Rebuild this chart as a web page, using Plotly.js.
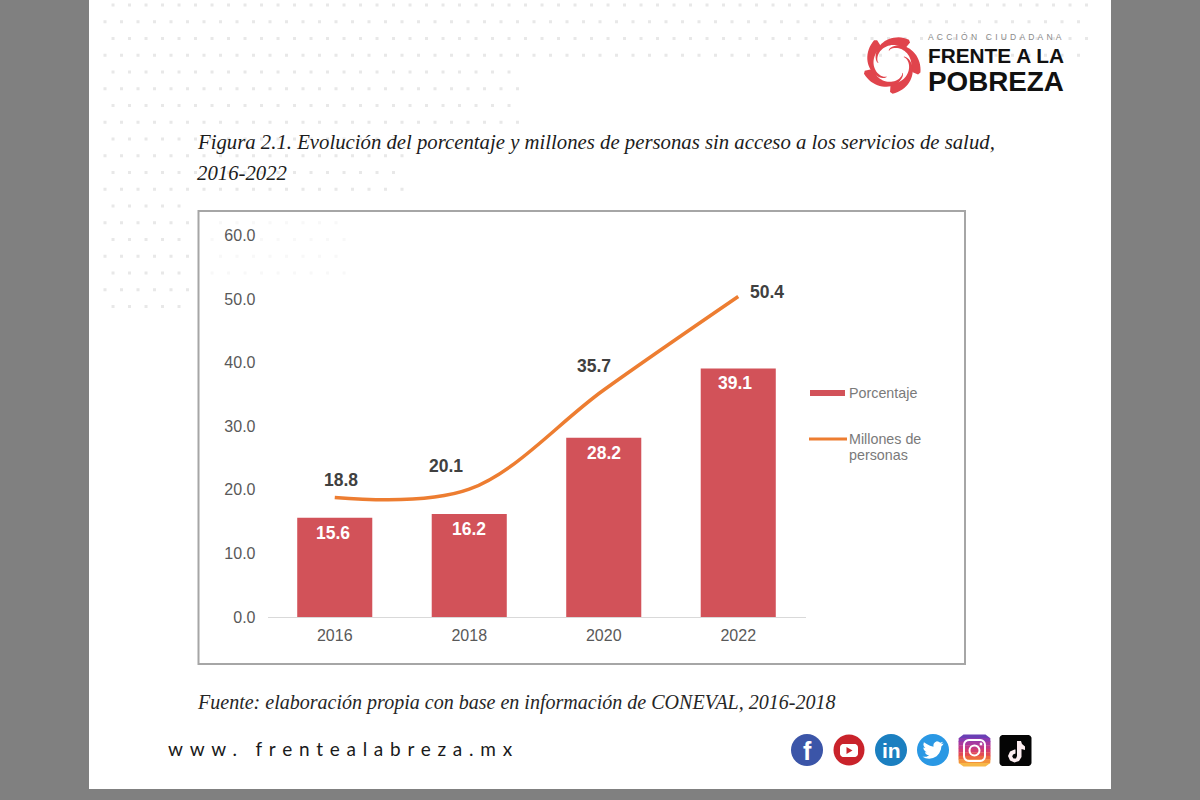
<!DOCTYPE html>
<html><head><meta charset="utf-8">
<script src="https://cdn.plot.ly/plotly-3.0.1.min.js"></script>
<style>html,body{margin:0;padding:0;background:#808080}#c{width:1200px;height:800px}</style></head>
<body><div id="c"></div>
<script>
var years = ['2016','2018','2020','2022'];
var porcentaje = [15.6,16.2,28.2,39.1];
var millones = [18.8,20.1,35.7,50.4];
var yTicks = [0,10,20,30,40,50,60];
var titleLines = ['Figura 2.1. Evolución del porcentaje y millones de personas sin acceso a los servicios de salud,','2016-2022'];
var sourceText = 'Fuente: elaboración propia con base en información de CONEVAL, 2016-2018';
var siteText = 'www. frentealabreza.mx';
var legendLines = ['Porcentaje','Millones de','personas'];
var lineLabelShift = [[6,17],[-23,23],[-10,24],[29,5]];
var barLabelShift = [-1.5,0,0,-3.5];

var BAR='#d25259', LINE='#ed7d31';
function X(x){return x/1200;}
function Y(y){return 1-y/800;}
function P(x,y){return X(x).toFixed(5)+','+Y(y).toFixed(5);}
function poly(pts){return 'M'+pts.map(function(p){return P(p[0],p[1]);}).join('L')+'Z';}
function shapePath(path,fill,lw,lc,op){
  return {type:'path',xref:'paper',yref:'paper',path:path,fillcolor:fill||'rgba(0,0,0,0)',
    line:{width:lw||0,color:lc||'rgba(0,0,0,0)'},opacity:op===undefined?1:op,layer:'below'};
}
function rect(x0,y0,x1,y1,fill,lw,lc){
  return {type:'rect',xref:'paper',yref:'paper',x0:X(x0),x1:X(x1),y0:Y(y0),y1:Y(y1),
    fillcolor:fill||'rgba(0,0,0,0)',line:{width:lw||0,color:lc||'rgba(0,0,0,0)'},layer:'below'};
}
function circle(cx,cy,r,fill,lw,lc){
  return {type:'circle',xref:'paper',yref:'paper',x0:X(cx-r),x1:X(cx+r),y0:Y(cy-r),y1:Y(cy+r),
    fillcolor:fill||'rgba(0,0,0,0)',line:{width:lw||0,color:lc||'rgba(0,0,0,0)'},layer:'below'};
}
function rounded(x0,y0,x1,y1,r){
  var p=[],i,a,c=[[x1-r,y0+r,-90],[x1-r,y1-r,0],[x0+r,y1-r,90],[x0+r,y0+r,180]];
  c.forEach(function(k){for(i=0;i<=6;i++){a=(k[2]+i*15)*Math.PI/180;p.push([k[0]+r*Math.cos(a),k[1]+r*Math.sin(a)]);}});
  return poly(p);
}
var shapes=[];
shapes.push(rect(0,0,1200,800,'#808080'));
shapes.push(rect(89,0,1111,789,'#ffffff'));
// dotted background
function dots(test){
  var d='',row=0,y,x;
  for(y=5;y<320;y+=16.75,row++){
    for(x=113;x<1095;x+=16.5){
      var xx=x+(row%2?-8:0);
      if(xx<95||!test(xx,y))continue;
      d+=poly([[xx-1.5,y-1.5],[xx+1.5,y-1.5],[xx+1.5,y+1.5],[xx-1.5,y+1.5]]);
    }
  }
  return d;
}
shapes.push(shapePath(dots(function(x,y){
  if(y<60)return true;
  if(y<128)return x<520;
  if(y<200)return x<410;
  return x<190;
}),'#e8e8e8'));
shapes.push(shapePath(dots(function(x,y){return y>212&&y<275&&x>205&&x<345;}),'#f8f8f8'));
// chart frame
shapes.push(rect(198.5,211,965,664,'rgba(255,255,255,0)',2,'#a6a6a6'));
// legend swatches
shapes.push(rect(810,390,845,396,BAR));
shapes.push({type:'line',xref:'paper',yref:'paper',x0:X(809),x1:X(847),y0:Y(439),y1:Y(439),line:{color:LINE,width:3},layer:'below'});
// logo swirl
(function(){
  var cx=892,cy=64,n,t,i;
  for(n=0;n<5;n++){
    var base=-50+n*72,out=[],inn=[];
    for(i=0;i<=24;i++){
      t=i/24; // 0 = tail, 1 = hand
      var ang=(base-125*(1-t))*Math.PI/180;
      var r=14+11.5*Math.pow(t,0.7);
      var w=1+9.5*Math.pow(t,1.2)*(i==24?0.5:1);
      out.push([cx+(r+w*0.45)*Math.cos(ang),cy+(r+w*0.45)*Math.sin(ang)]);
      inn.push([cx+(r-w*0.55)*Math.cos(ang),cy+(r-w*0.55)*Math.sin(ang)]);
    }
    shapes.push(shapePath(poly(out.concat(inn.reverse())),'#e0444c'));
  }
})();
// social icons
shapes.push(circle(807,750,16,'#3b55a8'));
shapes.push(circle(849,750,15.5,'#c9232b'));
shapes.push(shapePath(rounded(840,744,858,757,3.5),'#ffffff'));
shapes.push(shapePath(poly([[846.5,747],[846.5,754],[852.5,750.5]]),'#c9232b'));
shapes.push(circle(891,750,16,'#1b7fc0'));
shapes.push(circle(933,750,16,'#2a98e4'));
var bird=[[24,4.6],[21.1,5.3],[23.3,2.6],[20.2,3.8],[18.5,2.6],[16.4,2.1],[14.2,3],[12.7,4.8],[12.4,6.5],[12.5,8.1],[8.5,7.2],[4.8,5.2],[1.6,3.2],[1,5.6],[1.5,7.8],[3.2,9.7],[0.9,9.1],[1.4,11.5],[3,13.4],[4.9,14.5],[2.7,14.6],[3.8,16.5],[5.7,17.6],[7.6,18],[4.5,19.6],[0,19.5],[3.5,21.2],[7.6,21.8],[12,21],[16,19],[19,15.5],[20.9,11.5],[21.5,7.8],[22.8,6.6]];
shapes.push(shapePath(poly(bird.map(function(p){return [922.5+p[0]*0.88,739.5+p[1]*0.88];})),'#ffffff'));
// instagram gradient bands
(function(){
  var cols=['#6a3fb5','#8a3bb0','#a8389f','#bf3a8a','#d23c70','#e24a55','#ec6a3f','#f3933a','#f7b848'];
  var x0=958.5,x1=990.5,y0=734.5,y1=766.5,r=5,h=(y1-y0)/cols.length;
  cols.forEach(function(c,i){
    var a=y0+i*h,b=Math.min(a+h+0.3,y1);
    function ins(y){var d=Math.max(0,Math.max(y0+r-y,y-(y1-r)));return r-Math.sqrt(Math.max(0,r*r-d*d));}
    shapes.push(shapePath(poly([[x0+ins(a),a],[x1-ins(a),a],[x1-ins(b),b],[x0+ins(b),b]]),c));
  });
  shapes.push(shapePath(rounded(964,740,985,761,5),'rgba(0,0,0,0)',2,'#ffffff'));
  shapes.push(circle(974.5,750.5,5,'rgba(0,0,0,0)',2,'#ffffff'));
  shapes.push(circle(981,744,1.4,'#ffffff'));
})();
// tiktok
shapes.push(shapePath(rounded(999.5,735,1031.5,766,3.5),'#050505'));
function note(x,y,c){
  var o=[[1017,741],[1021,741],[1022,744],[1025,746.5],[1025,750],[1021.5,749],[1021.5,757],[1019,761],[1014.5,762.5],[1010,760.5],[1008,756],[1010,751.5],[1014.5,749.5],[1015.5,749.5],[1015.5,753.5],[1013,754.5],[1012.2,756.5],[1013.5,758.5],[1016,758.5],[1017,756]];
  shapes.push(shapePath(poly(o.map(function(p){return [p[0]+x,p[1]+y];})),c));
}
note(0,0,'#fdeef1');

var SANS='"Liberation Sans",Arial,sans-serif', SERIF='"Liberation Serif",serif';
function txt(t,x,y,size,color,family,anchor){
  return {xref:'paper',yref:'paper',x:X(x),y:Y(y),text:t,showarrow:false,xanchor:anchor||'left',yanchor:'middle',align:'left',
    font:{family:family||SANS,size:size,color:color}};
}
var ann=[];
ann.push(txt('<i>'+titleLines[0]+'</i>',195,143,20.75,'#1c1c1c',SERIF));
ann.push(txt('<i>'+titleLines[1]+'</i>',195,173,20.75,'#1c1c1c',SERIF));
ann.push(txt('<i>'+sourceText+'</i>',195,702,20.05,'#262626',SERIF));
ann.push(txt(siteText,166,748,19,'#1a1a1a','Lato'));
ann.push(txt('ACCIÓN CIUDADANA',926,37,8.5,'#8a8a8a'));
ann.push(txt('<b>FRENTE A LA</b>',926,55.5,20.8,'#111111'));
ann.push(txt('<b>POBREZA</b>',926,81,27.8,'#111111'));
ann.push(txt(legendLines[0],847,393,14.3,'#7a7a7a'));
ann.push(txt(legendLines[1],847,439,14.3,'#7a7a7a'));
ann.push(txt(legendLines[2],847,455,14.3,'#7a7a7a'));
ann.push(txt('<b>f</b>',807,750.5,25,'#ffffff',SANS,'center'));
ann.push(txt('<b>in</b>',891,750,21,'#ffffff',SANS,'center'));
// value labels (category axes take the category index here)
years.forEach(function(yr,i){
  ann.push({xref:'x',yref:'y',x:i,y:porcentaje[i],text:'<b>'+porcentaje[i].toFixed(1)+'</b>',showarrow:false,
    xshift:barLabelShift[i],yshift:-15,yanchor:'middle',font:{family:SANS,size:17.5,color:'#ffffff'}});
  ann.push({xref:'x',yref:'y',x:i,y:millones[i],text:'<b>'+millones[i].toFixed(1)+'</b>',showarrow:false,
    xshift:lineLabelShift[i][0],yshift:lineLabelShift[i][1],yanchor:'middle',font:{family:SANS,size:17.5,color:'#404040'}});
});

var data=[
 {type:'bar',name:'Porcentaje',x:years,y:porcentaje,marker:{color:BAR},hoverinfo:'y'},
 {type:'scatter',mode:'lines',name:'Millones de personas',x:years,y:millones,line:{color:LINE,width:3.5,shape:'spline',smoothing:1},hoverinfo:'y'}
];
var tickFont={family:SANS,size:16,color:'#595959'};
var layout={
 width:1200,height:800,margin:{l:0,r:0,t:0,b:0},showlegend:false,
 paper_bgcolor:'#808080',plot_bgcolor:'rgba(0,0,0,0)',bargap:0.442,
 xaxis:{type:'category',domain:[X(267.5),X(805.5)],range:[-0.5,3.5],showgrid:false,zeroline:false,showline:true,linecolor:'#d9d9d9',linewidth:1,ticks:'',tickfont:tickFont,ticklabelstandoff:4},
 yaxis:{domain:[Y(617),Y(235.5)],range:[0,60],tickmode:'array',tickvals:yTicks,tickformat:'.1f',showgrid:false,zeroline:false,showline:false,ticks:'',tickfont:tickFont,ticklabelstandoff:11},
 shapes:shapes,annotations:ann
};
Plotly.newPlot('c',data,layout,{displayModeBar:false,staticPlot:true}).then(function(){
  document.querySelectorAll('.annotation text').forEach(function(t){
    if(t.textContent===siteText){t.style.letterSpacing='6.75px';}
    if(t.textContent==='ACCIÓN CIUDADANA'){t.style.letterSpacing='3.2px';}
  });
});
</script></body></html>
